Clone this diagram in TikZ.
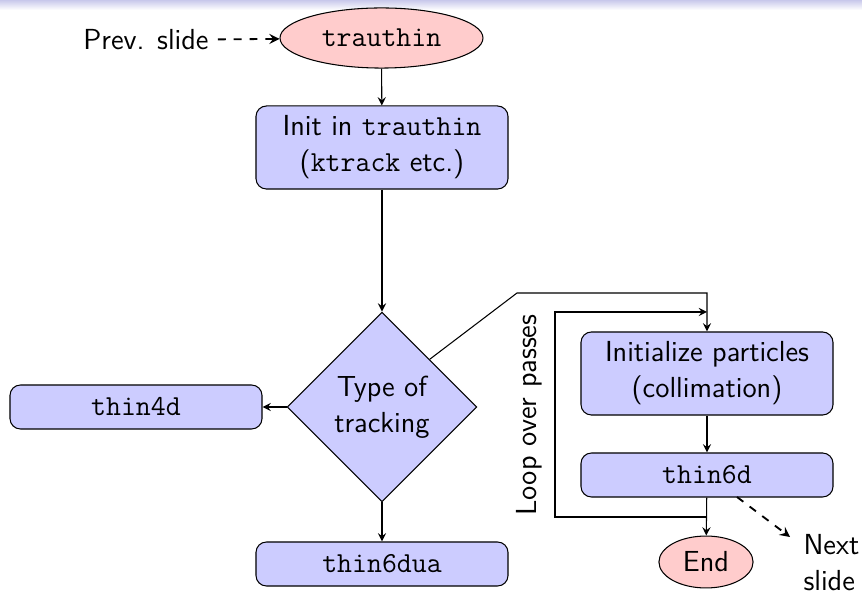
\documentclass[tikz,border=0pt]{standalone}
\usetikzlibrary{shapes.geometric,arrows}
\definecolor{boxfill}{RGB}{204,204,255}
\definecolor{ovalfill}{RGB}{255,204,204}
\definecolor{barcol}{RGB}{200,200,235}
\begin{document}
\begin{tikzpicture}[x=0.3793pt,y=-0.3793pt,
  font=\sffamily\fontsize{11}{13.6}\selectfont,
  line width=0.4pt,
  box/.style={draw, fill=boxfill, rounded corners=4pt, minimum width=95.6pt, inner sep=0pt, align=center},
  tallbox/.style={box, minimum height=31.5pt},
  flatbox/.style={box, minimum height=16.7pt},
  oval/.style={draw, fill=ovalfill, ellipse, inner sep=0pt},
  dia/.style={draw, fill=boxfill, diamond, inner sep=0pt, minimum width=72pt, minimum height=72pt, align=center},
  arr/.style={-stealth},
  darr/.style={-stealth, dashed, line width=0.7pt}]
\useasboundingbox (0,0) rectangle (862,595);
\shade[top color=barcol, bottom color=white] (0,0) rectangle (862,10);
% nodes
\node (prev) at (146,40) {Prev. slide};
\node[oval, minimum width=77pt, minimum height=22.8pt] (trau) at (381.5,38) {\ttfamily trauthin};
\node[tallbox] (init) at (382,147.5) {Init in \texttt{trauthin}\\(\texttt{ktrack} etc.)};
\node[dia] (type) at (382,407) {Type of\\tracking};
\node[flatbox] (t4d) at (136,407) {\ttfamily thin4d};
\node[flatbox] (t6dua) at (382,564) {\ttfamily thin6dua};
\node[tallbox] (initp) at (707,373.5) {Initialize particles\\(collimation)};
\node[flatbox] (t6d) at (707,475) {\ttfamily thin6d};
\node[oval, minimum width=35.7pt, minimum height=19.7pt] (endn) at (706,562) {End};
\node[align=left, anchor=west, inner sep=0pt] (next) at (803,563) {Next\\slide};
\node[rotate=90] (loop) at (529,415) {Loop over passes};
% coordinates
\coordinate (bend) at (517,293);
\coordinate (lbot) at (707,517);
\coordinate (lleft) at (555,312);
\coordinate (ltop) at (707,312);
\coordinate (ds) at (737,497);
\coordinate (de) at (790,537);
% connectors
\draw[darr] (prev) -- (trau);
\draw[arr] (trau) -- (init);
\draw[arr] (init) -- (type);
\draw[arr] (type) -- (t4d);
\draw[arr] (type) -- (t6dua);
\draw[arr] (type.north east) -- (bend) -| (initp.north);
\draw[arr] (initp) -- (t6d);
\draw[arr] (t6d) -- (endn);
\draw[arr] (lbot) -| (lleft) -- (ltop);
\draw[darr] (ds) -- (de);
\end{tikzpicture}
\end{document}
